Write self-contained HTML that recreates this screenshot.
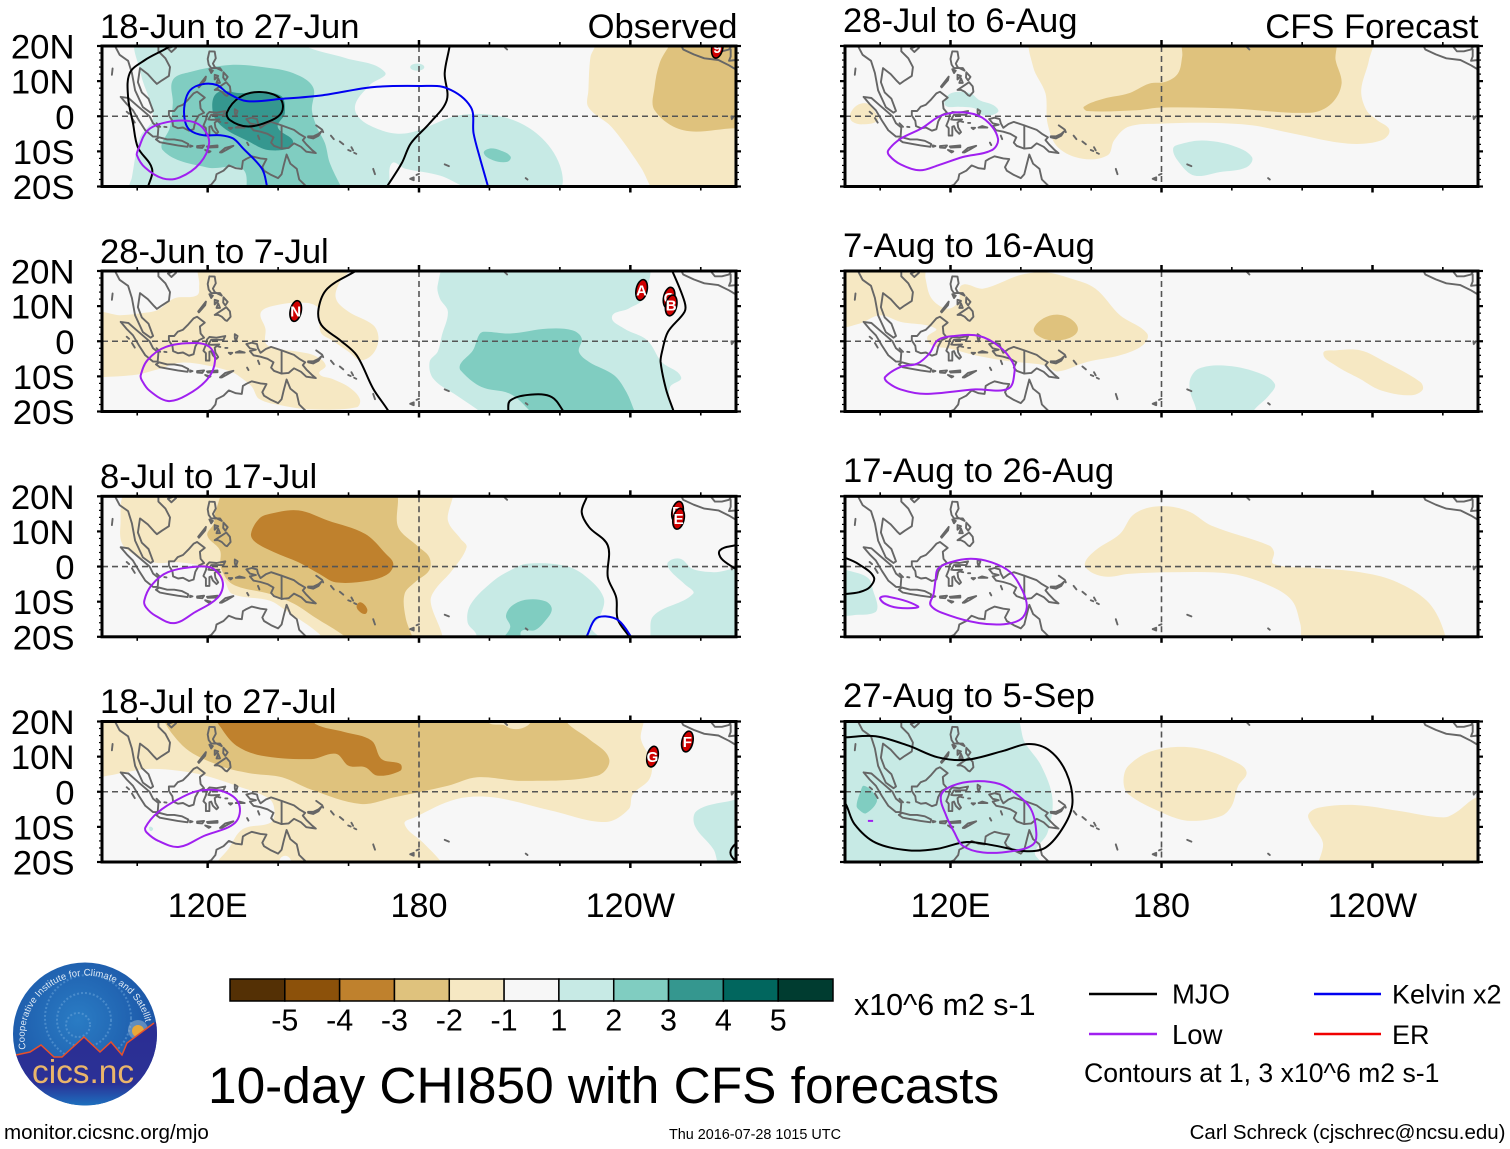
<!DOCTYPE html>
<html lang="en">
<head>
<meta charset="utf-8">
<title>10-day CHI850 with CFS forecasts</title>
<style>
html,body{margin:0;padding:0;background:#fff}
svg{display:block;font-family:"Liberation Sans",sans-serif}
</style>
</head>
<body>
<svg id="chart" xmlns="http://www.w3.org/2000/svg" width="1510" height="1149" viewBox="0 0 1510 1149">
  <rect x="0" y="0" width="1510" height="1149" fill="#fff"/>
  <g id="panels"></g>

  <g font-size="34.6" fill="#000">
    <text x="100" y="38">18-Jun to 27-Jun</text>
    <text x="100" y="263">28-Jun to 7-Jul</text>
    <text x="100" y="488">8-Jul to 17-Jul</text>
    <text x="100" y="713">18-Jul to 27-Jul</text>
    <text x="843" y="32">28-Jul to 6-Aug</text>
    <text x="843" y="257">7-Aug to 16-Aug</text>
    <text x="843" y="482">17-Aug to 26-Aug</text>
    <text x="843" y="707">27-Aug to 5-Sep</text>
    <text x="737.5" y="38" text-anchor="end">Observed</text>
    <text x="1478.5" y="38" text-anchor="end">CFS Forecast</text>
  </g>

  <g id="colorbar"></g>
  <text x="854" y="1015" font-size="30.4">x10^6 m2 s-1</text>
  <text x="208" y="1103" font-size="51.4">10-day CHI850 with CFS forecasts</text>

  <g font-size="27.5">
    <line x1="1089" y1="994" x2="1157" y2="994" stroke="#000" stroke-width="2.5"/>
    <text x="1172" y="1003.5">MJO</text>
    <line x1="1089" y1="1034" x2="1157" y2="1034" stroke="#a020f0" stroke-width="2.5"/>
    <text x="1172" y="1044">Low</text>
    <line x1="1314" y1="994" x2="1381" y2="994" stroke="#0000f0" stroke-width="2.5"/>
    <text x="1392" y="1003.5" font-size="27">Kelvin x2</text>
    <line x1="1314" y1="1034" x2="1381" y2="1034" stroke="#f00000" stroke-width="2.5"/>
    <text x="1392" y="1044" font-size="27">ER</text>
    <text x="1084" y="1082" font-size="26.6">Contours at 1, 3 x10^6 m2 s-1</text>
  </g>

  <text x="4" y="1139" font-size="20.6">monitor.cicsnc.org/mjo</text>
  <text x="669" y="1139" font-size="14.4">Thu 2016-07-28 1015 UTC</text>
  <text x="1505.5" y="1139" font-size="20.5" text-anchor="end">Carl Schreck (cjschrec@ncsu.edu)</text>

  <g>
    <defs>
      <radialGradient id="logoSky" cx="0.45" cy="0.4" r="0.65">
        <stop offset="0" stop-color="#2a7cc4"/>
        <stop offset="0.65" stop-color="#1f5fae"/>
        <stop offset="1" stop-color="#1b4da0"/>
      </radialGradient>
      <linearGradient id="logoGround" x1="0" y1="0" x2="0" y2="1">
        <stop offset="0" stop-color="#2b2d92"/>
        <stop offset="0.72" stop-color="#2b3196"/>
        <stop offset="1" stop-color="#1a7cc6"/>
      </linearGradient>
      <clipPath id="logoClip"><ellipse cx="85" cy="1034" rx="72" ry="71.5"/></clipPath>
      <path id="logoArc" d="M 26 1050 A 61 61 0 1 1 146 1024"/>
    </defs>
    <ellipse cx="85" cy="1034" rx="72" ry="71.5" fill="url(#logoSky)"/>
    <g clip-path="url(#logoClip)">
      <g fill="none" stroke="#6fa8dc" stroke-dasharray="2 2" stroke-width="2" opacity=".5">
        <circle cx="78" cy="1025" r="12"/>
        <circle cx="84" cy="1020" r="27"/>
        <circle cx="88" cy="1018" r="43"/>
      </g>
      <circle cx="138" cy="1030" r="10" fill="#9fb9cf" opacity=".5"/>
      <circle cx="138" cy="1031" r="6" fill="#e8a83a"/>
      <polygon points="10,1057 16,1055 30,1052 41,1045 54,1057 62,1057 84,1037 100,1052 111,1042 122,1055 127,1043 154,1023 170,1015 170,1110 0,1110" fill="url(#logoGround)"/>
      <polyline points="10,1057 16,1055 30,1052 41,1045 54,1057 62,1057 84,1037 100,1052 111,1042 122,1055 127,1043 154,1023" fill="none" stroke="#e8502a" stroke-width="1.5"/>
    </g>
    <text x="32" y="1083" font-size="33.4" fill="#eab56a">cics.nc</text>
    <text font-size="9.5" fill="#dfeaf5"><textPath href="#logoArc" startOffset="1" textLength="200" lengthAdjust="spacing">Cooperative Institute for Climate and Satellites</textPath></text>
  </g>
</svg>

<script>
/* ---------- axes, tick values and colour scale ---------- */
const lonMajorTicks = [120, 180, 240];
const lonMajorLabels = ['120E', '180', '120W'];
const lonMinorTicks = [100, 140, 160, 200, 220, 260];
const latMajorTicks = [20, 10, 0, -10, -20];
const latMajorLabels = ['20N', '10N', '0', '10S', '20S'];
const latMinorTicks = [18, 16, 14, 12, 8, 6, 4, 2, -2, -4, -6, -8, -12, -14, -16, -18];
const cbarColors = ['#543005', '#8c510a', '#bf812d', '#dfc27d', '#f6e8c3', '#f7f7f7', '#c7eae5', '#80cdc1', '#35978f', '#01665e', '#003c30'];
const cbarLabels = ['-5', '-4', '-3', '-2', '-1', '1', '2', '3', '4', '5'];

/* ---------- coastlines (lon, lat) ---------- */
const coastlines = [
  [[93.7,20],[95,17.5],[97.4,15.8],[98.5,12.3],[99.4,7.4],[101.6,2.6],[103.8,1],[104.5,1.5],[103.2,5],[101.3,6.8],[100.2,9.7],[100.8,13.7],[103,12],[104.8,10],[105.6,9.2],[107,10.2],[109,11.5],[109.3,14],[108,16.5],[106,18.5],[106,20.5]],
  [[108.7,19.3],[110.5,20],[111,19.5],[109.7,18.3],[108.7,19.3]],
  [[95.3,5.5],[97.5,5.2],[100,3],[103.5,0],[104.5,-2],[106,-3.2],[105.8,-5.8],[104.5,-5.8],[102.3,-4],[100.5,-1.2],[98.8,1.7],[97,3.5],[95.3,5.5]],
  [[105.3,-6.6],[106.2,-6],[108.5,-6.6],[110.5,-6.6],[112.7,-7],[114.5,-7.9],[114.3,-8.7],[111.5,-8.3],[108.5,-7.8],[106.4,-7.4],[105.3,-6.6]],
  [[115,-8.3],[115.7,-8.5],[115,-8.7],[115,-8.3]],
  [[117,-8.5],[119,-8.3],[118.5,-9],[117,-8.9],[117,-8.5]],
  [[119.8,-8.6],[122.8,-8.3],[122.8,-8.8],[120,-8.9],[119.8,-8.6]],
  [[119.3,-9.6],[120.8,-10],[120.3,-10.3],[119.3,-9.6]],
  [[123.5,-10.3],[125,-9],[127.3,-8.4],[125.5,-9.5],[124,-10.3],[123.5,-10.3]],
  [[109,1.5],[110.5,1.5],[111.5,2.7],[113,3.3],[114.5,4.8],[116,6.5],[117,7],[119.2,5.3],[117.8,4.2],[118,2.2],[119,1],[117.5,0.3],[116.5,-1.5],[116,-3.7],[114.7,-4.1],[113,-3.2],[111.6,-3.4],[110.2,-2.8],[110,-1.3],[109,0.2],[109,1.5]],
  [[119.8,0.5],[120.5,1.2],[122.5,1],[125,1.5],[124.5,0.4],[121,0.4],[120.2,-0.9],[121,-1],[123.3,-0.9],[122,-1.8],[122.2,-3.2],[123,-4.5],[122.5,-5],[121.5,-4],[121,-2.8],[120.5,-3],[120.5,-5.5],[119.5,-5.5],[119.5,-3.4],[118.8,-2.7],[119.5,-1],[119.8,0.5]],
  [[120.5,18.5],[122,18.4],[122.3,16.5],[121.5,15],[122,14],[124,13],[123.5,13.7],[121,13.7],[120.3,14.7],[120,16.3],[120.5,18.5]],
  [[117.3,8.5],[119.5,11.3],[119.3,10.3],[117.5,8.2],[117.3,8.5]],
  [[120.5,13.4],[121.5,13],[121,12.3],[120.5,13.4]],
  [[124.5,12.5],[125.7,11.2],[125,10.2],[124.4,11],[124.5,12.5]],
  [[122,11.8],[123,11.5],[122,10.5],[122,11.8]],
  [[123,10.8],[123.5,9.5],[122.5,9.5],[123,10.8]],
  [[122,7.5],[123.5,8.5],[125.3,9.7],[126.3,8.5],[126.5,7],[125.5,5.8],[125,6],[124,7],[123,7.5],[122,7.5]],
  [[127.7,2],[128.5,1.5],[128,0],[127.7,1],[127.7,2]],
  [[128,-3.2],[130.5,-3.2],[129,-2.8],[128,-3.2]],
  [[126,-3.3],[127,-3.3],[126.5,-3.7],[126,-3.3]],
  [[131.2,-7.5],[131.6,-8.2]],
  [[134.3,-5.5],[134.7,-6.5]],
  [[123,-1.5],[123.6,-1.6]],
  [[125,-1.9],[125.6,-1.9]],
  [[105.5,-2],[106.5,-3]],
  [[107.7,-3],[108.3,-3.1]],
  [[131,-0.8],[132.5,-0.4],[134,-0.8],[134.3,-2],[135,-3.3],[136.5,-2.2],[138,-1.6],[141,-2.6],[144.5,-3.9],[146,-5],[147.7,-6],[147,-6.8],[148,-8],[149.5,-9.5],[150.7,-10.5],[148,-10.1],[146.5,-8.7],[144.5,-7.7],[143,-9],[141,-9.2],[138.8,-8.4],[138,-7.5],[138.7,-6],[137,-5],[135,-4.4],[133,-4],[132,-2.8],[133.7,-2.4],[132,-2],[131,-0.8]],
  [[141,-2.6],[141,-9.2]],
  [[148.5,-5.7],[150,-5.7],[151.5,-5],[152.3,-4.3],[151.5,-5.5],[150,-6.3],[148.5,-6],[148.5,-5.7]],
  [[150.8,-2.6],[152.5,-3.8],[152.8,-4.5]],
  [[118.5,-20.5],[121,-19.5],[122.2,-18],[122.5,-16.5],[124.5,-15.5],[126,-14],[128,-14.8],[129.7,-15],[130,-12.7],[131,-12.1],[132.5,-11.4],[135,-12],[136.7,-12.2],[135.5,-14.5],[136,-15.5],[138,-16.7],[140,-17.6],[141,-16.5],[141.6,-14],[142.4,-10.9],[143.5,-13.5],[145.3,-15],[146,-18],[147.5,-19.5],[149,-21]],
  [[155,-5.5],[155.8,-6.5]],
  [[157.5,-7.2],[158.5,-8]],
  [[160.8,-8.8],[161.3,-9.7]],
  [[159.9,-9.6],[160.6,-9.9]],
  [[161.6,-10.4],[162.2,-10.7]],
  [[167,-15],[167.5,-16.5]],
  [[177.5,-17.8],[178.5,-17.4],[178.5,-18.2],[177.5,-17.8]],
  [[179.3,-16.7],[180,-16.4]],
  [[187.3,-13.7],[188.5,-14.2]],
  [[210.3,-17.6],[210.8,-18]],
  [[204,20],[205,19]],
  [[268.7,0],[269.2,-0.3],[268.8,-0.8],[268.7,0]],
  [[93,13.6],[92.8,11.8]],
  [[98.5,-0.5],[99.3,-1.8]],
  [[97,1.3],[97.7,0.7]],
  [[254.5,20],[255,19],[258,17.6],[261,16.5],[265,16],[268,14.5],[270,13.3]],
  [[262,21],[264,18.5],[266,18.5],[268,19],[269.5,21]],
  [[270,16],[268,15.8],[268.5,17],[268.5,19]]
];

/* ---------- panel 1: 18-Jun to 27-Jun ---------- */
const obs1Shading = [
  {level:1, pts:[[98,-21],[170.3,-21],[172.3,-13.4],[176,-14.9],[186,-16.9],[196,-21],[219.4,-21],[220,-14],[214,-5.4],[204.3,-0.3],[191.6,0.3],[176,-4.9],[166,-2.6],[161.8,2.3],[166,8.9],[170.3,12.6],[159,16.6],[147.6,20],[147.6,22],[100.5,22],[101,12.3],[104.5,-0.3],[100.8,-6],[98.5,-17.4]]},
  {level:1, pts:[[177.5,14],[179.5,15],[181.5,14],[179.5,13]]},
  {level:2, pts:[[110.1,10.3],[115,12.6],[126.3,14.6],[135.7,14],[144.2,12.3],[149.9,8.3],[149.6,1.7],[151,-3.1],[153.3,-7.7],[154.7,-13.4],[158,-20.3],[160,-24],[129,-24],[131,-20.3],[129.7,-14.9],[119.8,-14.6],[107.3,-9.7],[109.3,-3.1],[110.1,3.7]]},
  {level:2, pts:[[198.4,-10.5],[200,-9.2],[203,-9.7],[206,-11.5],[205,-13],[201,-12.5]]},
  {level:3, pts:[[122.6,6.6],[129.1,6.6],[140.5,6],[141.9,0.9],[139.9,-3.1],[144.2,-7.7],[137.7,-9.7],[131.1,-6.9],[124.3,-3.1],[121.5,0.9]]},
  {level:-1, pts:[[230,22],[230,20],[228.7,16.9],[228.1,7.4],[228.1,2.6],[234.7,-3.1],[243,-14.6],[245.7,-20],[248,-24],[276.7,-24],[276,22]]},
  {level:-2, pts:[[252.6,22],[251,20],[248.3,15.1],[246.9,8.3],[246.9,1.7],[255.1,-4],[269.6,-3.4],[279,-3.4],[279,22]]}
];
const obs1Contours = [
  {kind:'mjo', closed:false, pts:[[112,22],[108.4,19.4],[102.2,16],[97.9,12.3],[97.4,5.4],[98.8,-2],[100.2,-8.9],[104.2,-14.9],[103,-20.3],[102.5,-22]]},
  {kind:'mjo', closed:false, pts:[[188.7,22],[188.7,20],[187.3,12.3],[187.9,4.6],[183,-2],[177.7,-7.7],[175.1,-13.4],[171.1,-19.7],[170.3,-21]]},
  {kind:'mjo', closed:true, pts:[[125.5,1.1],[129.1,5.4],[134.8,6.9],[140.5,5.1],[141,1.1],[136.8,-1.7],[131.1,-2.9],[126.3,-1.1]]},
  {kind:'kelvin', closed:false, pts:[[137,-21.7],[136.8,-19.7],[135.4,-14.9],[130,-9.1],[127.2,-6.3],[123.5,-5.4],[118.7,-5.4],[115,-4],[113.5,-1.1],[113.5,3.7],[115,7.4],[118.4,9.1],[122.6,8.9],[125.7,6.6],[131.1,4.3],[140.5,4.9],[152.7,6],[166.9,8.3],[180.2,8.6],[187.9,8],[194.7,2.6],[195.5,-4.9],[197.5,-12.6],[199.5,-19.7],[200,-21.7]]},
  {kind:'low', closed:true, pts:[[100.2,-9.7],[103,-4],[108.4,-1.7],[115,-1.4],[118.7,-3.4],[120.4,-7.7],[117.8,-13.4],[112.1,-17.4],[107.3,-17.7],[102.2,-14.6],[99.9,-11.1]]}
];
const obs1Storms = [{name:'9', lon:264.7, lat:19.5}];

/* ---------- panel 2: 28-Jun to 7-Jul ---------- */
const obs2Shading = [
  {level:-1, pts:[[118,22],[161.2,22],[157.6,17],[156.4,12.2],[160,8.4],[167,4.6],[168.5,0.8],[167,-3.5],[163.5,-5.4],[160,-3],[155.3,0.3],[152.3,2.2],[151.7,5.5],[151.1,9.8],[145.8,11],[137.6,9.8],[135,7.9],[136.4,3.6],[136.6,-0.7],[140,-2.1],[145.8,-3],[150.6,-4.2],[153.5,-6.9],[151.7,-9.2],[155.3,-10.7],[160,-13],[163.2,-16.4],[162.3,-18.8],[149.4,-19.4],[141.1,-18.3],[134.6,-16.4],[132.6,-13],[129.9,-10.7],[127,-8.8],[119.9,-6.9],[112.3,-6.1],[105.8,-8],[99.9,-9.5],[90.2,-10.2],[88,-10.2],[88,7.4],[95.2,7.4],[100.5,7.9],[105.8,8.9],[110.5,12.2],[117,13.1],[117.6,16]]},
  {level:1, pts:[[188.2,22],[185.3,16],[185.9,12.2],[188.2,8.4],[186.5,1.7],[185.3,-3],[183,-5.9],[184.1,-10.7],[190.6,-15.4],[196.5,-19.4],[200,-22],[253,-22],[251.3,-17.3],[251.3,-13],[254.4,-10.2],[248.9,-5.9],[244.8,0.3],[238.3,3.6],[234.8,7],[239.5,9.3],[243.6,12.2],[244.2,22]]},
  {level:2, pts:[[198.3,2.7],[205.9,2.2],[216.5,3.6],[223.6,3.1],[226.2,0.8],[225.4,-3],[228.3,-5.9],[235.4,-9.7],[238.9,-14.5],[241.3,-20.2],[242.4,-23],[213.6,-23],[211.8,-20.2],[205.9,-15],[197.7,-13],[191.8,-8.3],[191.8,-6.4],[195.3,-2.6],[197,1.7]]}
];
const obs2Contours = [
  {kind:'mjo', closed:false, pts:[[165,22],[162,20],[154,15],[151.5,9.3],[152.3,4.6],[157.6,0.3],[162.3,-4],[167,-13.5],[171.2,-19.7],[172.3,-22]]},
  {kind:'mjo', closed:false, pts:[[250.5,22],[251.9,20],[255.4,11.2],[255.4,8.4],[250.7,2.7],[249,-3],[248.6,-5.9],[250.1,-13.5],[252.2,-19.7],[253,-22]]},
  {kind:'mjo', closed:false, pts:[[205,-22],[205.3,-20.2],[205.9,-16.9],[211.8,-15.2],[217.7,-15.9],[221.2,-20.2],[222.5,-22]]},
  {kind:'low', closed:true, pts:[[101,-9.7],[102.9,-5.4],[108.1,-1.6],[116.4,-0.5],[120.5,-1.6],[122.1,-5.4],[120,-10.7],[114,-15.4],[108.7,-17],[103.4,-14],[101.3,-11.1]]}
];
const obs2Storms = [
  {name:'N', lon:145, lat:8.6},
  {name:'A', lon:243.2, lat:14.6},
  {name:'C', lon:251, lat:12.4},
  {name:'B', lon:251.6, lat:10.2}
];

/* ---------- panel 3: 8-Jul to 17-Jul ---------- */
const obs3Shading = [
  {level:-1, pts:[[98,22],[95.2,11.2],[96.4,5.5],[104.6,1.2],[111.7,1.2],[119.3,-0.2],[124.6,-4],[127,-7.8],[137.6,-9.7],[142.3,-12.6],[151.7,-19.2],[154,-23],[185.3,-23],[183.3,-9.7],[184.7,-6.4],[189.4,-1.1],[193.5,5.5],[191.8,7.9],[188.2,13.1],[188.6,22]]},
  {level:-2, pts:[[125.8,22],[122.3,16],[121.7,12.2],[119.9,8.9],[123.5,4.6],[123.7,-0.2],[127,-5],[137.6,-7.8],[144.7,-10.7],[150.5,-14.5],[159.4,-20.2],[161.7,-23],[179.4,-23],[178.2,-20.2],[176.2,-14.5],[175.9,-7.8],[178.8,-4.5],[182.9,-1.1],[182.9,2.7],[179.4,6],[174.1,11.2],[172.3,22]]},
  {level:-3, pts:[[132.3,9.3],[134.6,13.6],[137.6,15],[145.8,16],[154.1,13.1],[164.7,9.3],[170.6,3.6],[172.7,0.8],[171.2,-2.1],[165.9,-4],[156.4,-4.5],[151.7,-2.1],[145.8,1.2],[138.8,4.1],[133.5,7]]},
  {level:-3, pts:[[162.3,-11.1],[163.5,-10.2],[165.3,-12.1],[164.7,-13.5],[162.9,-12.6]]},
  {level:1, pts:[[210.6,0.8],[221.2,0.3],[227.1,-2.6],[232.4,-8.8],[231.2,-14.5],[228.9,-17.3],[231.8,-20.7],[232.4,-23],[195.9,-23],[196.3,-19.4],[193.8,-15.9],[194.7,-10.7],[201.2,-4],[205.9,-1.1]]},
  {level:1, pts:[[250.7,1.2],[254.2,2.2],[257.7,-0.7],[263.6,-1.6],[274,-1.6],[274,-23],[244.8,-23],[245.6,-20.2],[246.6,-14],[257.8,-7.8],[255.4,-5],[251.3,-1.1]]},
  {level:2, pts:[[204.7,-14],[206.5,-11.1],[210.6,-9.4],[215.9,-9.9],[217.7,-12.1],[215.9,-15.4],[212.9,-18.1],[209,-18.5],[209.4,-23],[203,-23],[205.9,-17.3]]}
];
const obs3Contours = [
  {kind:'mjo', closed:false, pts:[[228,22],[227.7,20],[226.2,15.5],[228.3,11.2],[233.6,6],[233.6,-3],[236,-8.8],[236.4,-15],[239.5,-19.7],[241,-22]]},
  {kind:'mjo', closed:false, pts:[[272,6.3],[269.5,6],[265.4,4.6],[265.9,2.2],[269.5,-0.4],[272,-2]]},
  {kind:'kelvin', closed:false, pts:[[226.5,-22],[227.7,-19.7],[230,-15],[233,-14.2],[236.7,-15.4],[240,-19.7],[241,-22]]},
  {kind:'low', closed:true, pts:[[102,-9.7],[104,-5.4],[108.7,-1.6],[117.6,0],[121.7,-0.7],[124.3,-4.5],[122.9,-8.8],[116.4,-13],[110.5,-16.1],[105.2,-14],[102.5,-11.6]]}
];
const obs3Storms = [
  {name:'D', lon:253.4, lat:15.6},
  {name:'E', lon:253.7, lat:13.6}
];

/* ---------- panel 4: 18-Jul to 27-Jul ---------- */
const obs4Shading = [
  {level:-1, pts:[[88,4.6],[91.7,4.6],[96.4,5.5],[103.4,6.5],[111.7,6],[119.3,4.6],[128.2,1.7],[137.6,-2.1],[139,-5.9],[137.8,-8.8],[129.9,-10.7],[125.8,-16.4],[122.3,-20.7],[122.3,-23],[187.7,-23],[186.5,-20.2],[181.2,-14.5],[175.9,-9.2],[178.8,-7.3],[190.6,-2.1],[201.2,-1.6],[217.7,-5.4],[233,-8.6],[239.5,-5],[240.7,-0.7],[245.4,3.6],[246,8.4],[243,15],[243,22],[88,22]]},
  {level:0, pts:[[140,-23],[140.5,-19.2],[142,-18.2],[143.5,-19.2],[144.5,-23]]},
  {level:-2, pts:[[108.6,22],[112.9,13.1],[123.5,7.4],[131.7,5.3],[141.1,4.1],[149.4,0.6],[163.5,-3.5],[172.9,-1.6],[188.2,1.7],[196.5,4.1],[209.5,3.1],[230.7,4.6],[234,9.3],[228.3,15],[222.4,19.3],[221.2,22]]},
  {level:-1, pts:[[199,22],[200,19.5],[204,19],[206,18],[209,18],[211.5,19.5],[212,22]]},
  {level:-3, pts:[[122.3,22],[124,17.9],[128.2,13.1],[135.2,10.3],[149.4,9.3],[156.4,10.8],[160,7.4],[164.7,7],[168.2,4.6],[174.7,6],[174.7,7.9],[169.4,9.3],[166.5,14.6],[158.8,17],[150.6,19.3],[150,22]]},
  {level:1, pts:[[274,-2.1],[268.4,-2.6],[258.9,-5.4],[258.3,-9.7],[263.6,-16.4],[264.8,-20.2],[266,-23],[274,-23]]},
  {level:1, pts:[[103.5,-10],[104.5,-10.5],[103.8,-11.2]]}
];
const obs4Contours = [
  {kind:'mjo', closed:false, pts:[[272,-14],[270,-14.7],[268.4,-17.3],[270,-19.7],[272,-20]]},
  {kind:'low', closed:true, pts:[[102.3,-10.2],[105.8,-5.9],[111.7,-2.1],[117.6,0.3],[124.7,0],[128.9,-3.5],[127.8,-8.8],[118.9,-12.6],[111.9,-15.7],[106,-14],[102.7,-11.6]]}
];
const obs4Storms = [
  {name:'G', lon:246.3, lat:10},
  {name:'F', lon:256.2, lat:14.3}
];

/* ---------- panel 5: 28-Jul to 6-Aug ---------- */
const fcst1Shading = [
  {level:-1, pts:[[143.5,22],[143.5,14.1],[147,6.5],[147.6,-2.1],[150.5,-8.8],[157.6,-12.1],[164.7,-11.1],[166.5,-6.9],[170.6,-3],[180,-2.1],[194.1,-1.9],[205.9,-2.6],[217.7,-5],[233,-7.8],[242.4,-6.9],[244.8,-4],[241.3,-1.1],[238.3,1.7],[236.8,7.4],[239,16],[239.5,22]]},
  {level:-1, pts:[[91.4,0.3],[93.4,3.1],[96.4,3.6],[98.2,1.7],[99.3,-1.1],[95.2,-2.3],[92.2,-1.6]]},
  {level:-2, pts:[[186.5,22],[185.9,17],[184.7,12.2],[181.2,9.8],[176.5,9.3],[170.6,6.5],[163.5,5],[157.9,2.7],[158.8,1.5],[172.9,1.7],[180,2.5],[200,2.2],[222.4,1],[228.3,3.6],[231.2,9.3],[229.5,16],[228.9,22]]},
  {level:1, pts:[[118.5,3.1],[119.3,6],[122.3,7],[125.8,6.5],[128.2,4.6],[132.3,3.1],[133.5,1.2],[129.3,0.3],[127,2.2],[122.3,2.7]]},
  {level:1, pts:[[183.3,-9.2],[185.9,-7.8],[191.8,-6.9],[200,-8.3],[205.7,-11.6],[204.2,-14.5],[196.5,-15.9],[189.4,-16.9],[185.3,-13.5]]}
];
const fcst1Contours = [
  {kind:'low', closed:true, pts:[[102.3,-9.7],[105.8,-6.4],[111.7,-3.5],[117.6,0.3],[124.7,1],[130,-1.1],[133.5,-6.4],[131.7,-9.7],[123.5,-11.6],[116.4,-14],[111.2,-15.4],[105.8,-13.7],[102.5,-11.1]]}
];

/* ---------- panel 6: 7-Aug to 16-Aug ---------- */
const fcst2Shading = [
  {level:-1, pts:[[88,22],[112.3,22],[112.9,17.9],[114.6,12.2],[119,9.3],[122.3,11.2],[123.2,16],[129.3,15],[140,18.9],[147,19.6],[154.1,17.9],[161.2,15],[168.2,7.4],[175.9,2.2],[174.7,-1.1],[168.2,-4],[158.8,-5.9],[150.5,-8.6],[147,-6.9],[138.8,-5.9],[134.6,-5.4],[127,-4],[119.9,-2.1],[114.6,-1.1],[113.4,1.2],[115.8,3.6],[105.8,5.5],[99.9,7.4],[94,5],[88,4.8]]},
  {level:-2, pts:[[143.7,3.6],[146.4,6.5],[150.5,7.6],[154.7,6],[156.2,3.1],[153.5,0.8],[148.2,0.3],[144.7,1.7]]},
  {level:-1, pts:[[226,-3.5],[229.5,-2.6],[236.6,-2.6],[243.6,-5.9],[253.6,-11.6],[254.2,-13.9],[250.7,-15.4],[242.4,-14],[236.4,-10.7],[229.5,-6.9]]},
  {level:1, pts:[[188.2,-10.7],[190.6,-7.8],[197.7,-6.9],[207.1,-8.8],[212.2,-12.1],[210.6,-15.4],[205.9,-20.2],[205.9,-23],[190,-23],[189.8,-19.2],[188.2,-14.5]]}
];
const fcst2Contours = [
  {kind:'low', closed:true, pts:[[101.4,-10.2],[105.8,-7.3],[110.5,-6.4],[114,-3.5],[116.4,0.3],[121.1,1.5],[128.2,1.5],[134,-1.6],[137.6,-5.9],[138.2,-8.8],[136.4,-13.5],[127,-13.7],[112.9,-15],[105.8,-13.7],[102,-11.6]]}
];

/* ---------- panel 7: 17-Aug to 26-Aug ---------- */
const fcst3Shading = [
  {level:-1, pts:[[158.2,0.8],[161.2,4.6],[168.2,9.3],[171.8,14.6],[176.5,16.8],[182.4,17.1],[188.2,15.5],[194.1,11.7],[210.6,6],[212,4.1],[211.8,0.8],[223.6,-0.4],[236.5,-1.6],[246,-4],[255.4,-9.7],[259.9,-17.3],[260,-23],[221,-23],[219.5,-16.4],[217.1,-9.7],[210.6,-5.4],[200,-2.1],[182.4,-1.6],[170.6,-2.1],[164.7,-2.9],[160,-1.6]]},
  {level:1, pts:[[88,-1.6],[92.7,-1.6],[96.8,-3.5],[98,-6.9],[99.2,-11.1],[98.6,-13],[93.9,-13.7],[88,-13]]}
];
const fcst3Contours = [
  {kind:'mjo', closed:false, pts:[[86,3.5],[90.2,2.4],[94,0.6],[98.2,-3],[97,-5.9],[94,-7.3],[90.2,-7.8],[86,-8]]},
  {kind:'low', closed:true, pts:[[116.4,-0.7],[119.9,1.2],[125.8,2.2],[131.7,1.2],[137,-1.6],[140.5,-6.9],[141.7,-11.6],[140,-15],[135.2,-16.4],[128.2,-16.1],[119.9,-14],[114.4,-11.1],[115.2,-7.8],[115.8,-3.5]]},
  {kind:'low', closed:true, pts:[[100,-9.2],[101.9,-8.5],[110.7,-11.3],[107.8,-11.9],[103,-11.3]]}
];

/* ---------- panel 8: 27-Aug to 5-Sep ---------- */
const fcst4Shading = [
  {level:1, pts:[[137.6,22],[141.1,14.1],[145.8,7.4],[149,-2.1],[147.6,-11.6],[144,-17.3],[145.8,-20.2],[146.4,-23],[88,-23],[88,22]]},
  {level:2, pts:[[93.3,-4],[94.5,0.3],[95.4,1.7],[98.4,-0.7],[99,-3],[96,-6.1],[94.3,-5.4]]},
  {level:-1, pts:[[169.2,3.1],[170.6,7.4],[177.6,11.7],[189.4,12.5],[201.2,8.4],[204.2,5.5],[201.8,1.7],[200,-4],[197,-6.9],[188.2,-8.3],[181.2,-6.4],[170.6,-0.7]]},
  {level:-1, pts:[[221.8,-6.4],[224.8,-4.5],[235.4,-3.8],[247.2,-5.4],[260.2,-7.3],[263.7,-5.9],[269.5,-1.6],[276,-0.2],[276,-23],[225.3,-23],[225.9,-14.5],[222.4,-8.8]]}
];
const fcst4Contours = [
  {kind:'mjo', closed:false, pts:[[86,15.3],[90.2,15.5],[98.7,15.8],[108.1,13.1],[116.4,9.8],[124.6,9.1],[135.2,11.7],[142.3,13.6],[148.2,11.7],[152.9,5.5],[154.7,-3],[152.3,-9.7],[147,-15.9],[141.1,-16.9],[132.9,-15.4],[124.6,-14.3],[116.4,-16.2],[108.1,-16.7],[98.7,-14.5],[92.7,-9.2],[90.2,-3.5],[87,1]]},
  {kind:'low', closed:true, pts:[[117.3,-1.1],[120.5,1.7],[127,3],[134,2.2],[138.8,-0.7],[142.9,-5],[144.4,-11.6],[143.5,-15],[137.6,-16.9],[129.3,-17.3],[123.5,-15.4],[121.1,-11.6],[118.8,-6.9]]},
  {kind:'low', closed:false, pts:[[96.5,-8.3],[98,-8.3]]}
];

/* ---------- wiring of data to panels ---------- */
const panelList = [
  {slug:'18jun', col:0, row:0, shading:obs1Shading, contours:obs1Contours, storms:obs1Storms},
  {slug:'28jun', col:0, row:1, shading:obs2Shading, contours:obs2Contours, storms:obs2Storms},
  {slug:'8jul',  col:0, row:2, shading:obs3Shading, contours:obs3Contours, storms:obs3Storms},
  {slug:'18jul', col:0, row:3, shading:obs4Shading, contours:obs4Contours, storms:obs4Storms},
  {slug:'28jul', col:1, row:0, shading:fcst1Shading, contours:fcst1Contours, storms:[]},
  {slug:'7aug',  col:1, row:1, shading:fcst2Shading, contours:fcst2Contours, storms:[]},
  {slug:'17aug', col:1, row:2, shading:fcst3Shading, contours:fcst3Contours, storms:[]},
  {slug:'27aug', col:1, row:3, shading:fcst4Shading, contours:fcst4Contours, storms:[]}
];
const contourColors = {mjo:'#000000', kelvin:'#0000f0', low:'#a020f0', er:'#f00000'};

const NS = 'http://www.w3.org/2000/svg';
const LON_MIN = 90, LON_MAX = 270, LAT_MAX = 20, LAT_MIN = -20;
const COLS = [{left:102, right:736}, {left:845, right:1478}];
const ROW_TOPS = [46, 271, 496.3, 721.5];
const PANEL_H = 140.5;

function mk(tag, attrs, parent, text) {
  const el = document.createElementNS(NS, tag);
  for (const k in attrs) el.setAttribute(k, attrs[k]);
  if (text !== undefined) el.textContent = text;
  parent.appendChild(el);
  return el;
}
function xAxis(col) {
  const c = COLS[col];
  return lon => c.left + (lon - LON_MIN) * (c.right - c.left) / (LON_MAX - LON_MIN);
}
function yAxis(top) {
  return lat => top + (LAT_MAX - lat) * PANEL_H / (LAT_MAX - LAT_MIN);
}
function unitVec(a, b) {
  const dx = b[0] - a[0], dy = b[1] - a[1], len = Math.hypot(dx, dy) || 1;
  return [dx / len, dy / len];
}
function smoothPath(xy, closed) {
  const n = xy.length;
  if (n < 3) return 'M' + xy.map(p => p[0].toFixed(1) + ' ' + p[1].toFixed(1)).join('L');
  const at = i => closed ? xy[(i + n) % n] : xy[Math.max(0, Math.min(n - 1, i))];
  let d = 'M' + xy[0][0].toFixed(1) + ' ' + xy[0][1].toFixed(1);
  const segs = closed ? n : n - 1;
  for (let i = 0; i < segs; i++) {
    const p0 = at(i - 1), p1 = at(i), p2 = at(i + 1), p3 = at(i + 2);
    const seg = Math.hypot(p2[0] - p1[0], p2[1] - p1[1]) / 3;
    const t1 = unitVec(p0, p2), t2 = unitVec(p1, p3);
    const c1x = p1[0] + t1[0] * seg, c1y = p1[1] + t1[1] * seg;
    const c2x = p2[0] - t2[0] * seg, c2y = p2[1] - t2[1] * seg;
    d += 'C' + c1x.toFixed(1) + ' ' + c1y.toFixed(1) + ' ' + c2x.toFixed(1) + ' ' + c2y.toFixed(1) + ' ' + p2[0].toFixed(1) + ' ' + p2[1].toFixed(1);
  }
  return d + (closed ? 'Z' : '');
}

function drawPanel(root, panel) {
  const sx = xAxis(panel.col), top = ROW_TOPS[panel.row], sy = yAxis(top);
  const left = COLS[panel.col].left, right = COLS[panel.col].right, bottom = top + PANEL_H;
  const project = pts => pts.map(p => [sx(p[0]), sy(p[1])]);
  const clipId = 'clip-' + panel.slug;

  const g = mk('g', {}, root);
  
  

  const defs = mk('defs', {}, g);
  const clip = mk('clipPath', {id: clipId}, defs);
  mk('rect', {x: left, y: top, width: right - left, height: PANEL_H}, clip);

  const bg = mk('rect', {x: left, y: top, width: right - left, height: PANEL_H, fill: cbarColors[5]}, g);
  
  

  const inner = mk('g', {'clip-path': 'url(#' + clipId + ')'}, g);

  panel.shading.forEach(area => {
    const path = mk('path', {d: smoothPath(project(area.pts), true), fill: cbarColors[area.level + 5]}, inner);
    
    
  });

  coastlines.forEach(line => {
    const poly = mk('polyline', {points: project(line).map(p => p[0].toFixed(1) + ',' + p[1].toFixed(1)).join(' '), fill: 'none', stroke: '#666', 'stroke-width': 1.9, 'stroke-linejoin': 'round', 'stroke-linecap': 'round'}, inner);
    
    
  });

  const eq = mk('line', {x1: left, x2: right, y1: sy(0), y2: sy(0), stroke: '#555', 'stroke-width': 1.6, 'stroke-dasharray': '6 4'}, inner);
  
  
  const dl = mk('line', {x1: sx(180), x2: sx(180), y1: top, y2: bottom, stroke: '#555', 'stroke-width': 1.6, 'stroke-dasharray': '6 4'}, inner);
  
  

  panel.contours.forEach(c => {
    const path = mk('path', {d: smoothPath(project(c.pts), c.closed), fill: 'none', stroke: contourColors[c.kind], 'stroke-width': 2, 'stroke-linejoin': 'round'}, inner);
    
    
  });

  panel.storms.forEach(s => {
    const cx = sx(s.lon), cy = sy(s.lat);
    const group = mk('g', {}, inner);
    
    
    mk('ellipse', {cx: cx, cy: cy, rx: 5.5, ry: 10.5, fill: '#d00000', stroke: '#000', 'stroke-width': 1.6, transform: 'rotate(12 ' + cx + ' ' + cy + ')'}, group);
    mk('text', {x: cx, y: cy + 5.3, 'text-anchor': 'middle', 'font-size': 15, 'font-weight': 'bold', fill: '#fff'}, group, s.name);
  });

  const ticks = mk('g', {stroke: '#000', 'stroke-width': 1.6}, g);
  
  
  lonMinorTicks.forEach(lon => {
    mk('line', {x1: sx(lon), x2: sx(lon), y1: top - 4, y2: top}, ticks);
    mk('line', {x1: sx(lon), x2: sx(lon), y1: bottom, y2: bottom + 4}, ticks);
  });
  lonMajorTicks.forEach(lon => {
    mk('line', {x1: sx(lon), x2: sx(lon), y1: top - 6, y2: top, 'stroke-width': 2.5}, ticks);
    mk('line', {x1: sx(lon), x2: sx(lon), y1: bottom, y2: bottom + 6, 'stroke-width': 2.5}, ticks);
  });
  latMinorTicks.forEach(lat => {
    mk('line', {x1: left - 3, x2: left, y1: sy(lat), y2: sy(lat), 'stroke-width': 1.2}, ticks);
    mk('line', {x1: right, x2: right + 3, y1: sy(lat), y2: sy(lat), 'stroke-width': 1.2}, ticks);
  });
  latMajorTicks.forEach(lat => {
    mk('line', {x1: left - 5, x2: left, y1: sy(lat), y2: sy(lat), 'stroke-width': 2.2}, ticks);
    mk('line', {x1: right, x2: right + 5, y1: sy(lat), y2: sy(lat), 'stroke-width': 2.2}, ticks);
  });

  const frame = mk('rect', {x: left, y: top, width: right - left, height: PANEL_H, fill: 'none', stroke: '#000', 'stroke-width': 3}, g);
  
  

  if (panel.col === 0) {
    latMajorTicks.forEach((lat, i) => {
      const t = mk('text', {x: 74.5, y: sy(lat) + 12.5, 'text-anchor': 'end', 'font-size': 34.7}, g, latMajorLabels[i]);
      
      
    });
  }
  if (panel.row === ROW_TOPS.length - 1) {
    lonMajorTicks.forEach((lon, i) => {
      const t = mk('text', {x: sx(lon), y: 917, 'text-anchor': 'middle', 'font-size': 34.2}, g, lonMajorLabels[i]);
      
      
    });
  }
}

function drawColorbar(root) {
  const x0 = 230, x1 = 833, y0 = 979, h = 22;
  const w = (x1 - x0) / cbarColors.length;
  cbarColors.forEach((color, i) => {
    const box = mk('rect', {x: x0 + i * w, y: y0, width: w, height: h, fill: color, stroke: '#000', 'stroke-width': 1.5}, root);
    
    
  });
  cbarLabels.forEach((label, i) => {
    const t = mk('text', {x: x0 + (i + 1) * w, y: 1030.5, 'text-anchor': 'middle', 'font-size': 30.5}, root, label);
    
    
  });
}

const panelRoot = document.getElementById('panels');
panelList.forEach(p => drawPanel(panelRoot, p));
drawColorbar(document.getElementById('colorbar'));
</script>
</body>
</html>
